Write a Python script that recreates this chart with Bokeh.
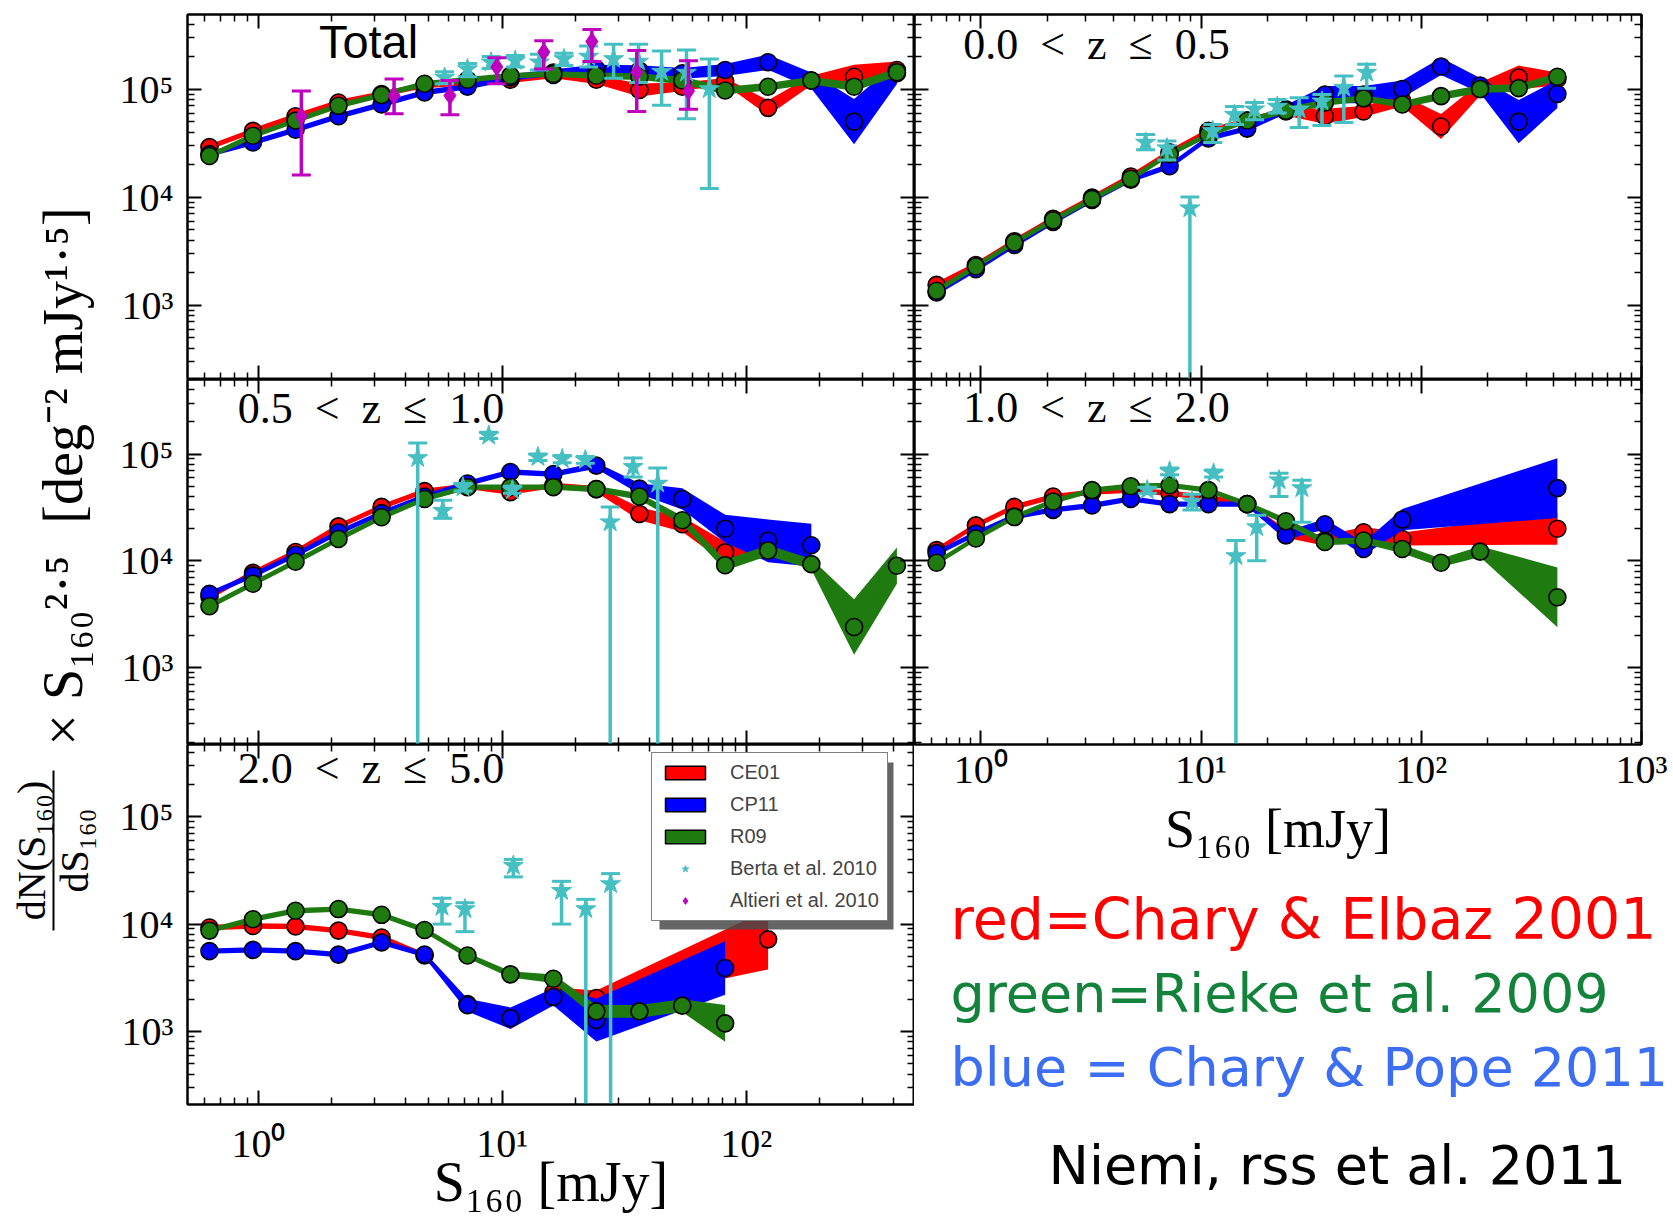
import math
from bokeh.plotting import figure
from bokeh.layouts import row, column
from bokeh.models import Range1d, FixedTicker, LogAxis, Legend, LegendItem, BoxAnnotation, Label
from bokeh.embed import file_html
from bokeh.resources import INLINE
from bokeh.core.properties import value

NAN = float("nan")

# ---------------------------------------------------------------- data
# model flux bins [mJy]
S_BINS = [0.63, 0.95, 1.42, 2.13, 3.2, 4.8, 7.2, 10.8, 16.2, 24.3, 36.5, 54.7, 82.0, 123.0, 185.0, 277.0, 415.0]

# Total
TOT_CE01 = [2.9e4, 4.1e4, 5.6e4, 7.5e4, 9.0e4, 1.08e5, 1.15e5, 1.22e5, 1.35e5, 1.22e5, 9.8e4, 1.05e5, 1.18e5, 6.7e4, 1.2e5, 1.3e5, 1.5e5]
TOT_CP11 = [2.5e4, 3.2e4, 4.2e4, 5.6e4, 7.2e4, 9.3e4, 1.05e5, 1.28e5, 1.42e5, 1.53e5, 1.48e5, 1.4e5, 1.5e5, 1.77e5, 1.2e5, 5.0e4, 1.4e5]
TOT_R09 = [2.4e4, 3.7e4, 5.1e4, 7.0e4, 8.8e4, 1.12e5, 1.22e5, 1.33e5, 1.38e5, 1.33e5, 1.3e5, 1.2e5, 9.7e4, 1.05e5, 1.2e5, 1.05e5, 1.43e5]
# half widths of the model bands [dex]
TOT_CE01_W = [.025, .025, .025, .025, .025, .025, .025, .03, .03, .04, .06, .04, .03, .07, .045, .11, .08]
TOT_CP11_W = [.025, .025, .025, .025, .025, .025, .025, .03, .03, .04, .05, .05, .055, .07, .075, .21, .1]
TOT_R09_W = [.025, .025, .025, .025, .025, .025, .025, .025, .025, .03, .03, .035, .035, .035, .035, .04, .04]

# 0.0 < z <= 0.5
Z05_CE01 = [1.54e3, 2.35e3, 3.9e3, 6.3e3, 9.9e3, 1.55e4, 2.6e4, 4.1e4, 5.1e4, 6.2e4, 5.6e4, 6.2e4, 7.8e4, 4.5e4, 1.0e5, 1.28e5, 1.24e5]
Z05_CP11 = [1.31e3, 2.15e3, 3.6e3, 5.9e3, 9.4e3, 1.45e4, 1.93e4, 3.5e4, 4.3e4, 6.5e4, 8.9e4, 8.9e4, 1.0e5, 1.62e5, 1.08e5, 5.0e4, 9.0e4]
Z05_R09 = [1.36e3, 2.28e3, 3.8e3, 6.1e3, 9.6e3, 1.48e4, 2.5e4, 3.8e4, 5.1e4, 6.3e4, 7.5e4, 8.2e4, 7.2e4, 8.6e4, 1.0e5, 1.02e5, 1.3e5]
Z05_CE01_W = [.025, .025, .025, .025, .025, .025, .025, .025, .025, .04, .07, .05, .05, .115, .06, .11, .06]
Z05_CP11_W = [.025, .025, .025, .025, .025, .025, .025, .025, .025, .04, .08, .08, .08, .08, .07, .2, .13]
Z05_R09_W = [.025, .025, .025, .025, .025, .025, .025, .025, .025, .03, .03, .03, .03, .035, .035, .035, .035]

# 0.5 < z <= 1.0
Z10_CE01 = [4.6e3, 7.7e3, 1.21e4, 2.1e4, 3.2e4, 4.5e4, 5.0e4, 4.4e4, 5.1e4, 4.7e4, 2.75e4, 2.2e4, 1.2e4, 1.3e4, NAN, NAN, NAN]
Z10_CP11 = [4.9e3, 7.3e3, 1.14e4, 1.85e4, 2.8e4, 4.0e4, 5.3e4, 6.8e4, 6.5e4, 7.8e4, 4.75e4, 3.8e4, 2.0e4, 1.54e4, 1.4e4, NAN, NAN]
Z10_R09 = [3.75e3, 6.1e3, 9.8e3, 1.6e4, 2.56e4, 3.8e4, 4.9e4, 4.9e4, 4.9e4, 4.7e4, 4.0e4, 2.4e4, 9.1e3, 1.25e4, 9.3e3, 2.4e3, 9.0e3]
Z10_CE01_W = [.025, .025, .025, .025, .025, .025, .025, .025, .025, .03, .06, .07, .1, .08, 0, 0, 0]
Z10_CP11_W = [.025, .025, .025, .025, .025, .025, .025, .025, .025, .03, .05, .1, .13, .2, .2, 0, 0]
Z10_R09_W = [.025, .025, .025, .025, .025, .025, .025, .025, .025, .03, .03, .04, .05, .05, .05, .26, .17]

# 1.0 < z <= 2.0
Z20_CE01 = [1.26e4, 2.15e4, 3.2e4, 4.0e4, 4.4e4, 4.6e4, 4.3e4, 3.9e4, 3.4e4, 1.8e4, 1.55e4, 1.85e4, 1.6e4, NAN, NAN, NAN, 2.0e4]
Z20_CP11 = [1.18e4, 1.8e4, 2.6e4, 3.0e4, 3.3e4, 3.8e4, 3.4e4, 3.4e4, 3.4e4, 1.73e4, 2.2e4, 1.29e4, 2.43e4, NAN, NAN, NAN, 4.8e4]
Z20_R09 = [9.6e3, 1.62e4, 2.57e4, 3.6e4, 4.6e4, 5.0e4, 5.1e4, 4.6e4, 3.4e4, 2.35e4, 1.5e4, 1.55e4, 1.29e4, 9.6e3, 1.22e4, NAN, 4.55e3]
Z20_CE01_W = [.025, .025, .025, .025, .025, .025, .025, .025, .025, .04, .05, .05, .06, 0, 0, 0, .15]
Z20_CP11_W = [.025, .025, .025, .025, .025, .025, .025, .025, .025, .04, .05, .06, .1, 0, 0, 0, .28]
Z20_R09_W = [.025, .025, .025, .025, .025, .025, .025, .025, .025, .03, .03, .03, .04, .04, .05, 0, .28]

# 2.0 < z <= 5.0
Z50_CE01 = [9.3e3, 9.6e3, 9.5e3, 8.7e3, 7.5e3, 5.1e3, 1.8e3, 1.35e3, 2.3e3, 2.05e3, NAN, NAN, NAN, 7.2e3, NAN, NAN, NAN]
Z50_CP11 = [5.6e3, 5.75e3, 5.6e3, 5.2e3, 6.75e3, 5.2e3, 1.76e3, 1.33e3, 2.1e3, 1.28e3, NAN, NAN, 3.9e3, NAN, NAN, NAN, NAN]
Z50_R09 = [8.7e3, 1.11e4, 1.33e4, 1.38e4, 1.22e4, 8.8e3, 5.1e3, 3.4e3, 3.1e3, 1.54e3, 1.54e3, 1.74e3, 1.19e3, NAN, NAN, NAN, NAN]
Z50_CE01_W = [.025, .025, .025, .025, .025, .025, .03, .04, .05, .07, 0, 0, 0, .28, 0, 0, 0]
Z50_CP11_W = [.025, .025, .025, .025, .025, .025, .06, .1, .08, .2, 0, 0, .25, 0, 0, 0, 0]
Z50_R09_W = [.025, .025, .025, .025, .025, .025, .025, .03, .04, .06, .06, .06, .17, 0, 0, 0, 0]

# Berta et al. 2010 (PEP) counts; a lower limit of 1.0 means the bar runs off the axis
TOT_BERTA_S = [5.8, 7.2, 9.0, 11.3, 14.2, 17.9, 22.6, 28.6, 36.2, 45.0, 56.9, 70.6]
TOT_BERTA = [1.28e5, 1.53e5, 1.77e5, 1.83e5, 1.77e5, 1.9e5, 2.0e5, 1.9e5, 1.8e5, 1.45e5, 1.42e5, 1.0e5]
TOT_BERTA_LO = [1.12e5, 1.3e5, 1.55e5, 1.6e5, 1.5e5, 1.65e5, 1.6e5, 1.26e5, 1.15e5, 7.1e4, 5.3e4, 1.2e4]
TOT_BERTA_HI = [1.45e5, 1.72e5, 2.0e5, 2.05e5, 2.1e5, 2.15e5, 2.5e5, 2.6e5, 2.6e5, 2.25e5, 2.3e5, 1.9e5]

Z05_BERTA_S = [5.6, 7.0, 8.9, 11.3, 14.2, 17.5, 22.2, 27.9, 35.4, 44.5, 56.5]
Z05_BERTA = [3.2e4, 2.84e4, 7.9e3, 4.1e4, 5.8e4, 6.5e4, 6.9e4, 6.5e4, 7.7e4, 1.03e5, 1.42e5]
Z05_BERTA_LO = [2.75e4, 2.2e4, 1.0, 3.2e4, 4.7e4, 5.2e4, 6.0e4, 4.4e4, 4.6e4, 4.9e4, 1.02e5]
Z05_BERTA_HI = [3.8e4, 3.3e4, 1.0e4, 4.7e4, 6.9e4, 7.5e4, 8.0e4, 8.3e4, 8.9e4, 1.32e5, 1.7e5]

Z10_BERTA_S = [4.5, 5.7, 6.9, 8.8, 11.0, 14.0, 17.6, 21.9, 27.7, 34.4, 43.4]
Z10_BERTA = [9.2e4, 2.95e4, 4.9e4, 1.49e5, 4.6e4, 9.4e4, 9.0e4, 8.8e4, 2.3e4, 7.6e4, 5.3e4]
Z10_BERTA_LO = [1.0, 2.5e4, 4.5e4, 1.4e5, 4.3e4, 8.7e4, 8.3e4, 8.2e4, 1.0, 6.1e4, 1.0]
Z10_BERTA_HI = [1.27e5, 3.7e4, 5.3e4, 1.6e5, 5.0e4, 1.0e5, 9.7e4, 9.5e4, 3.2e4, 9.2e4, 7.4e4]

Z20_BERTA_S = [5.7, 7.2, 9.1, 11.4, 14.4, 17.9, 22.6, 28.7]
Z20_BERTA = [4.6e4, 6.9e4, 3.6e4, 6.6e4, 1.11e4, 2.07e4, 5.7e4, 4.8e4]
Z20_BERTA_LO = [4.3e4, 6.4e4, 3.0e4, 6.1e4, 1.0, 1.0e4, 4.0e4, 2.3e4]
Z20_BERTA_HI = [4.9e4, 7.4e4, 4.2e4, 7.1e4, 1.55e4, 2.67e4, 6.6e4, 5.7e4]

Z50_BERTA_S = [5.66, 7.03, 11.1, 17.5, 22.0, 27.8]
Z50_BERTA = [1.45e4, 1.38e4, 3.5e4, 2.04e4, 1.38e4, 2.36e4]
Z50_BERTA_LO = [1.0e4, 8.5e3, 2.75e4, 1.0e4, 1.0, 1.0]
Z50_BERTA_HI = [1.74e4, 1.58e4, 4.0e4, 2.5e4, 1.7e4, 2.95e4]

# Altieri et al. 2010 (total counts only)
ALT_S = [1.5, 3.6, 6.1, 9.5, 14.8, 23.3, 35.6, 58.0]
ALT = [5.6e4, 8.7e4, 8.7e4, 1.6e5, 2.2e5, 2.76e5, 1.43e5, 9.6e4]
ALT_LO = [1.6e4, 5.9e4, 5.8e4, 1.12e5, 1.53e5, 1.8e5, 6.2e4, 6.5e4]
ALT_HI = [9.6e4, 1.24e5, 1.2e5, 1.95e5, 2.8e5, 3.55e5, 2.27e5, 1.83e5]

# axes
X_LEFT = (0.512, 490.0)
X_RIGHT = (0.5, 1000.0)
Y_TOP = (205.0, 4.9e5)
Y_MID = (190.0, 5.0e5)
Y_BOT = (209.0, 4.7e5)
X_MAJOR = [1.0, 10.0, 100.0, 1000.0]
Y_MAJOR = [1e3, 1e4, 1e5]
TICK_TEXT = {1.0: "10\u2070", 10.0: "10\u00b9", 100.0: "10\u00b2", 1000.0: "10\u00b3",
             10000.0: "10\u2074", 100000.0: "10\u2075"}
X_TITLE = "S\u2081\u2086\u2080 [mJy]"

LEGEND_LABELS = ["CE01", "CP11", "R09", "Berta et al. 2010", "Altieri et al. 2010"]
NOTE_TEXT = ["red=Chary & Elbaz 2001", "green=Rieke et al. 2009",
             "blue = Chary & Pope 2011", "Niemi, rss et al. 2011"]

# ---------------------------------------------------------------- style
RED, BLUE, GREEN = "#ff0000", "#0000ff", "#1f7a10"
CYAN, MAGENTA = "#46bfc3", "#bf00bf"
SERIF = "Liberation Serif"
FRAME_W = 727


def minor_ticks(lo_exp, hi_exp):
    return [m * 10.0 ** e for e in range(lo_exp, hi_exp) for m in range(2, 10)]


def style_axis(ax, ticks, minors, show, font_size="40px", standoff=14):
    ax.ticker = FixedTicker(ticks=ticks, minor_ticks=minors)
    ax.major_tick_in = 14
    ax.major_tick_out = 0
    ax.minor_tick_in = 7
    ax.minor_tick_out = 0
    ax.major_tick_line_width = 2
    ax.minor_tick_line_width = 1.5
    ax.axis_line_width = 2
    ax.axis_line_color = "black"
    ax.major_tick_line_color = "black"
    ax.minor_tick_line_color = "black"
    if show:
        ax.major_label_overrides = TICK_TEXT
        ax.major_label_text_font = SERIF
        ax.major_label_text_font_size = font_size
        ax.major_label_text_color = "black"
        ax.major_label_standoff = standoff
    else:
        ax.major_label_text_font_size = "1px"
        ax.major_label_text_alpha = 0.0
        ax.major_label_standoff = 0
        ax.axis_label_standoff = 0


def panel(x_rng, y_rng, frame_h, left=0, right=0, top=0, bottom=0,
          xlabels=False, ylabels=False, x_standoff=14, xtitle_size=None, xtitle_standoff=0):
    p = figure(x_axis_type="log", y_axis_type="log",
               x_range=Range1d(*x_rng), y_range=Range1d(*y_rng),
               frame_width=FRAME_W, frame_height=frame_h,
               min_border_left=left, min_border_right=right,
               min_border_top=top, min_border_bottom=bottom,
               output_backend="svg", toolbar_location=None)
    p.add_layout(LogAxis(), "right")
    p.add_layout(LogAxis(), "above")
    p.grid.visible = False
    p.outline_line_color = "black"
    p.outline_line_width = 2
    xt = [t for t in X_MAJOR if x_rng[0] <= t <= x_rng[1]]
    xm = [t for t in minor_ticks(-1, 3) if x_rng[0] <= t <= x_rng[1]]
    ym = [t for t in minor_ticks(2, 6) if y_rng[0] <= t <= y_rng[1]]
    style_axis(p.below[0], xt, xm, xlabels, standoff=x_standoff)
    style_axis(p.above[0], xt, xm, False)
    style_axis(p.left[0], Y_MAJOR, ym, ylabels, standoff=14)
    style_axis(p.right[0], Y_MAJOR, ym, False)
    if xtitle_size:
        ax = p.below[0]
        ax.axis_label = X_TITLE
        ax.axis_label_text_font = SERIF
        ax.axis_label_text_font_style = "normal"
        ax.axis_label_text_color = "black"
        ax.axis_label_text_font_size = xtitle_size
        ax.axis_label_standoff = xtitle_standoff
    return p


def frame_point(p, fx, fy):
    """Data position for a fraction of the frame (fx from left, fy from top)."""
    lx0, lx1 = math.log10(p.x_range.start), math.log10(p.x_range.end)
    ly0, ly1 = math.log10(p.y_range.start), math.log10(p.y_range.end)
    return 10 ** (lx0 + fx * (lx1 - lx0)), 10 ** (ly1 - fy * (ly1 - ly0))


def draw_model(p, vals, widths, color):
    keep = [i for i, v in enumerate(vals) if not math.isnan(v)]
    xs = [S_BINS[i] for i in keep]
    ys = [vals[i] for i in keep]
    lo = [vals[i] / 10 ** widths[i] for i in keep]
    hi = [vals[i] * 10 ** widths[i] for i in keep]
    p.varea(x=xs, y1=lo, y2=hi, fill_color=color)
    p.line(xs, ys, line_color=color, line_width=1.5)
    p.scatter(xs, ys, size=17, fill_color=color, line_color="black", line_width=1.6)


def draw_points(p, s, y, lo, hi, color, marker, size):
    ymin = p.y_range.start
    lo_c = [max(v, ymin * 0.5) for v in lo]
    p.segment(x0=s, y0=lo_c, x1=s, y1=hi, line_color=color, line_width=3.5)
    p.scatter(s, hi, marker="dash", size=19, line_color=color, line_width=3)
    caps = [(a, b) for a, b in zip(s, lo) if b >= ymin]
    if caps:
        p.scatter([c[0] for c in caps], [c[1] for c in caps], marker="dash", size=19,
                  line_color=color, line_width=3)
    p.scatter(s, y, marker=marker, size=size, fill_color=color, line_color=color)


def panel_title(p, fx, fy, text, font=SERIF, size="44px", align="left"):
    x, y = frame_point(p, fx, fy)
    p.add_layout(Label(x=x, y=y, text=text, text_font=font, text_font_size=size,
                       text_align=align, text_baseline="middle", text_color="black"))


SP = "\u2002"

# ---------------------------------------------------------------- panels
p_tot = panel(X_LEFT, Y_TOP, 365, left=87, top=14, ylabels=True)
p_z05 = panel(X_RIGHT, Y_TOP, 365, right=32, top=14)
p_z10 = panel(X_LEFT, Y_MID, 365, left=87, ylabels=True)
p_z20 = panel(X_RIGHT, Y_MID, 365, right=32, bottom=120, xlabels=True, x_standoff=2,
              xtitle_size="54px", xtitle_standoff=4)
p_z50 = panel(X_LEFT, Y_BOT, 360, left=87, bottom=118, xlabels=True, ylabels=True, x_standoff=16,
              xtitle_size="56px", xtitle_standoff=-18)

model_sets = [
    (p_tot, TOT_CE01, TOT_CE01_W, TOT_CP11, TOT_CP11_W, TOT_R09, TOT_R09_W),
    (p_z05, Z05_CE01, Z05_CE01_W, Z05_CP11, Z05_CP11_W, Z05_R09, Z05_R09_W),
    (p_z10, Z10_CE01, Z10_CE01_W, Z10_CP11, Z10_CP11_W, Z10_R09, Z10_R09_W),
    (p_z20, Z20_CE01, Z20_CE01_W, Z20_CP11, Z20_CP11_W, Z20_R09, Z20_R09_W),
    (p_z50, Z50_CE01, Z50_CE01_W, Z50_CP11, Z50_CP11_W, Z50_R09, Z50_R09_W),
]
for p, ce, ce_w, cp, cp_w, r9, r9_w in model_sets:
    draw_model(p, ce, ce_w, RED)
    draw_model(p, cp, cp_w, BLUE)
    draw_model(p, r9, r9_w, GREEN)

berta_sets = [
    (p_tot, TOT_BERTA_S, TOT_BERTA, TOT_BERTA_LO, TOT_BERTA_HI),
    (p_z05, Z05_BERTA_S, Z05_BERTA, Z05_BERTA_LO, Z05_BERTA_HI),
    (p_z10, Z10_BERTA_S, Z10_BERTA, Z10_BERTA_LO, Z10_BERTA_HI),
    (p_z20, Z20_BERTA_S, Z20_BERTA, Z20_BERTA_LO, Z20_BERTA_HI),
    (p_z50, Z50_BERTA_S, Z50_BERTA, Z50_BERTA_LO, Z50_BERTA_HI),
]
for p, s, y, lo, hi in berta_sets:
    draw_points(p, s, y, lo, hi, CYAN, "star", 21)

draw_points(p_tot, ALT_S, ALT, ALT_LO, ALT_HI, MAGENTA, "diamond", 18)

panel_title(p_tot, 0.249, 0.074, "Total", font="Liberation Sans", size="47px", align="center")
panel_title(p_z05, 0.067, 0.082, f"0.0{SP}<{SP}z{SP}\u2264{SP}0.5")
panel_title(p_z10, 0.069, 0.079, f"0.5{SP}<{SP}z{SP}\u2264{SP}1.0")
panel_title(p_z20, 0.067, 0.077, f"1.0{SP}<{SP}z{SP}\u2264{SP}2.0")
panel_title(p_z50, 0.069, 0.067, f"2.0{SP}<{SP}z{SP}\u2264{SP}5.0")

# legend in the high-z panel, with a drop shadow
LEG_W, LEG_H = 234, 167
LEG_X, LEG_TOP = 464, 10
sx0, sy0 = frame_point(p_z50, (LEG_X + 8) / FRAME_W, (LEG_TOP + 8) / 360)
sx1, sy1 = frame_point(p_z50, (LEG_X + 8 + LEG_W) / FRAME_W, (LEG_TOP + 8 + LEG_H) / 360)
p_z50.add_layout(BoxAnnotation(left=sx0, right=sx1, top=sy0, bottom=sy1,
                               fill_color="#4a4a4a", fill_alpha=0.85, line_color=None))
# legend keys (each holds one undefined point, so nothing shows in the frame)
r_ce = p_z50.quad(left=[NAN], right=[NAN], top=[NAN], bottom=[NAN], fill_color=RED,
                  line_color="black", line_width=1.5)
r_cp = p_z50.quad(left=[NAN], right=[NAN], top=[NAN], bottom=[NAN], fill_color=BLUE,
                  line_color="black", line_width=1.5)
r_r9 = p_z50.quad(left=[NAN], right=[NAN], top=[NAN], bottom=[NAN], fill_color=GREEN,
                  line_color="black", line_width=1.5)
r_be = p_z50.scatter([NAN], [NAN], marker="star", size=16, fill_color=CYAN, line_color=CYAN)
r_al = p_z50.scatter([NAN], [NAN], marker="diamond", size=14, fill_color=MAGENTA, line_color=MAGENTA)
legend = Legend(items=[LegendItem(label=lab, renderers=[r]) for lab, r in
                       zip(LEGEND_LABELS, [r_ce, r_cp, r_r9, r_be, r_al])],
                location=(LEG_X, 360 - LEG_TOP - LEG_H),
                glyph_width=50, glyph_height=17, label_standoff=20, spacing=9,
                padding=8, margin=0, label_height=20,
                label_text_font="Liberation Sans", label_text_font_size="20px",
                border_line_color="black", border_line_width=1.5,
                background_fill_color="white", background_fill_alpha=1.0)
p_z50.add_layout(legend)

# ---------------------------------------------------------------- shared y label
ylab = figure(width=100, height=1222, x_range=Range1d(0, 100), y_range=Range1d(0, 1222),
              x_axis_location=None, y_axis_location=None, min_border=0,
              output_backend="svg", toolbar_location=None)
ylab.grid.visible = False
ylab.outline_line_color = None
ylab.text(x=[62, 62], y=[1222 - 365, 1222 - 650],
          text=["[deg\u207b\u00b2 mJy\u00b9\u00b7\u2075]", "\u00d7 S\u2081\u2086\u2080\u00b2\u00b7\u2075"],
          angle=math.pi / 2, text_font=value(SERIF), text_font_size="56px",
          text_align="center", text_baseline="middle", text_color="black")
ylab.text(x=[31, 74], y=[1222 - 850, 1222 - 850],
          text=["dN(S\u2081\u2086\u2080)", "dS\u2081\u2086\u2080"],
          angle=math.pi / 2, text_font=value(SERIF), text_font_size="40px",
          text_align="center", text_baseline="middle", text_color="black")
ylab.segment(x0=[53], y0=[1222 - 850 - 80], x1=[53], y1=[1222 - 850 + 80],
             line_color="black", line_width=2)

# ---------------------------------------------------------------- notes
# the block sits under the 1.0 < z <= 2.0 panel, whose axis area ends at y = 885
NOTES_TOP = 885
notes = figure(width=759, height=1222 - NOTES_TOP, x_range=Range1d(914, 1673),
               y_range=Range1d(1222, NOTES_TOP),
               x_axis_location=None, y_axis_location=None, min_border=0,
               output_backend="svg", toolbar_location=None)
notes.grid.visible = False
notes.outline_line_color = None
notes.text(x=[950, 950, 950, 1048], y=[939, 1014, 1088, 1186], text=NOTE_TEXT,
           text_color=["#ff0000", "#13823a", "#3b6ef2", "black"],
           text_font=value("DejaVu Sans"), text_font_size=["57px", "54px", "54px", "54px"],
           text_align="left", text_baseline="alphabetic")

layout = row(ylab, column(p_tot, p_z10, p_z50),
             column(column(p_z05, p_z20), row(notes)))

open("out.html", "w").write(file_html(layout, INLINE, "Number counts at 160 micron"))
